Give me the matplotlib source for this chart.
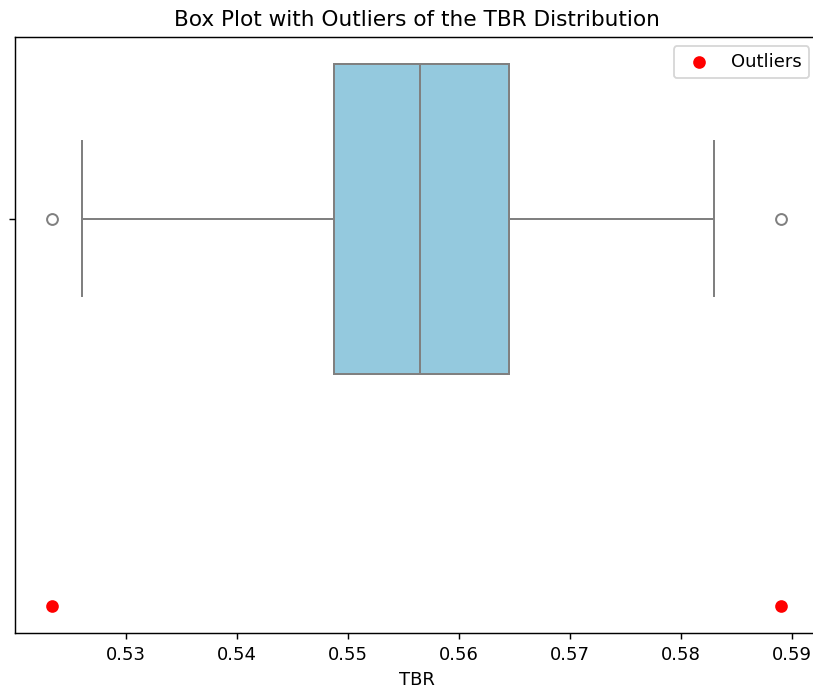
import matplotlib
matplotlib.use("Agg")
import matplotlib.pyplot as plt
import colorsys
import matplotlib.colors as mcolors

# TBR box plot summary values
q1 = 0.5487
median = 0.5565
q3 = 0.5645
whisker_low = 0.5260
whisker_high = 0.5830
outliers = [0.5233, 0.5890]
outlier_row = [1, 1]

# seaborn-like desaturated skyblue
h, l, s = colorsys.rgb_to_hls(*mcolors.to_rgb("skyblue"))
box_color = colorsys.hls_to_rgb(h, l, s * 0.75)
line_color = "#808080"

DPI = 130
fig = plt.figure(figsize=(813 / DPI, 691 / DPI), dpi=DPI)
ax = fig.add_axes([0.0185, 0.084, 0.988, 0.8625])

stats = [{"med": median, "q1": q1, "q3": q3,
          "whislo": whisker_low, "whishi": whisker_high,
          "fliers": outliers}]
ax.bxp(stats, positions=[0], widths=0.8, capwidths=0.4, vert=False,
       patch_artist=True, manage_ticks=False,
       boxprops=dict(facecolor=box_color, edgecolor=line_color, linewidth=1.1),
       medianprops=dict(color=line_color, linewidth=1.1),
       whiskerprops=dict(color=line_color, linewidth=1.1),
       capprops=dict(color=line_color, linewidth=1.1),
       flierprops=dict(marker="o", markerfacecolor="none",
                       markeredgecolor=line_color, markersize=6,
                       markeredgewidth=1.1))

ax.scatter(outliers, outlier_row, color="red", s=36, label="Outliers", zorder=3)

ax.set_ylim(1.07, -0.47)
ax.set_yticks([0])
ax.set_yticklabels([""])
ax.set_xticks([0.53, 0.54, 0.55, 0.56, 0.57, 0.58, 0.59])
ax.set_xlim(0.51997, 0.59237)
ax.set_xlabel("TBR")
ax.set_title("Box Plot with Outliers of the TBR Distribution")
ax.legend(loc="upper right")

fig.savefig("out.png", dpi=DPI)
